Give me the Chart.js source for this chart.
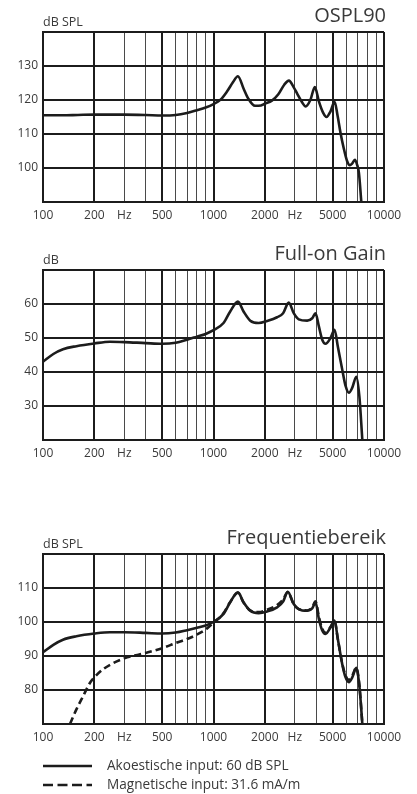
<!DOCTYPE html>
<html>
<head>
<meta charset="utf-8">
<script src="https://cdn.jsdelivr.net/npm/chart.js@4/dist/chart.umd.min.js"></script>
<style>
  html, body { margin: 0; padding: 0; background: #fff; width: 417px; height: 794px; overflow: hidden; }
  .panel { position: absolute; left: 0; width: 417px; }
</style>
</head>
<body>
<div class="panel" style="top:0;height:230px"><canvas id="ospl"></canvas></div>
<div class="panel" style="top:238px;height:230px"><canvas id="gain"></canvas></div>
<div class="panel" style="top:522px;height:272px"><canvas id="range"></canvas></div>
<script>
// Frequency grid (Hz) and the labels printed under it
const freqTicks = [100, 200, 300, 400, 500, 600, 700, 800, 900, 1000, 2000, 3000, 4000, 5000, 6000, 7000, 8000, 9000, 10000];
const freqTickLabels = ['100', '200', 'Hz', '', '500', '', '', '', '', '1000', '2000', 'Hz', '', '5000', '', '', '', '', '10000'];
const majorFreqs = [100, 200, 500, 1000, 2000, 5000, 10000];

// OSPL90 (dB SPL)
const osplFreq = [100, 130, 160, 200, 250, 300, 400, 500, 600, 700, 800, 900, 1000, 1100, 1200, 1300, 1390, 1500, 1600, 1750, 1900, 2000, 2200, 2400, 2600, 2770, 2950, 3100, 3300, 3470, 3700, 3930, 4150, 4400, 4600, 4850, 5130, 5350, 5560, 5800, 6080, 6310, 6500, 6750, 6950, 7130, 7360];
const osplLevel = [115.5, 115.5, 115.6, 115.7, 115.7, 115.7, 115.6, 115.45, 115.6, 116.2, 117.0, 117.8, 118.8, 120.1, 122.5, 125.2, 127.0, 123.4, 120.4, 118.3, 118.4, 118.9, 119.8, 121.7, 124.5, 125.7, 123.8, 121.8, 119.4, 118.1, 120.0, 123.8, 119.6, 116.2, 115.0, 116.6, 119.5, 115.2, 110.3, 105.9, 102.0, 100.8, 101.3, 102.4, 101.0, 98.5, 90.0];

// Full-on gain (dB)
const gainFreq = [100, 115, 131, 157, 200, 247, 300, 400, 500, 600, 700, 800, 900, 1000, 1145, 1253, 1391, 1501, 1643, 1840, 2062, 2360, 2560, 2763, 2955, 3162, 3542, 3793, 3966, 4150, 4343, 4540, 4857, 5128, 5360, 5690, 5953, 6225, 6516, 6880, 7168, 7464];
const gainLevel = [43.0, 45.3, 46.7, 47.6, 48.4, 48.9, 48.8, 48.5, 48.3, 48.6, 49.5, 50.4, 51.2, 52.3, 54.4, 57.8, 60.7, 57.8, 55.1, 54.4, 55.0, 56.1, 57.3, 60.4, 57.3, 55.5, 55.1, 55.8, 57.3, 53.4, 49.5, 48.3, 50.0, 52.4, 47.5, 40.7, 35.9, 33.9, 35.4, 38.6, 32.9, 20.0];

// Frequency response, acoustic input 60 dB SPL (dB SPL)
const acousticFreq = [100, 115, 131, 157, 200, 247, 300, 400, 500, 600, 700, 800, 900, 1000, 1145, 1253, 1391, 1501, 1643, 1840, 2062, 2360, 2560, 2725, 2955, 3162, 3542, 3793, 3966, 4150, 4343, 4540, 4857, 5128, 5360, 5690, 5953, 6225, 6516, 6880, 7168, 7464];
const acousticLevel = [91.1, 93.3, 94.8, 95.8, 96.6, 97.0, 97.0, 96.8, 96.6, 96.9, 97.6, 98.3, 99.0, 100.0, 102.4, 105.8, 108.7, 105.8, 103.3, 102.6, 103.1, 104.3, 106.0, 108.9, 105.3, 103.8, 103.3, 104.0, 105.8, 100.9, 97.5, 96.5, 98.4, 100.4, 95.0, 87.6, 83.7, 82.3, 83.7, 86.5, 81.3, 70.0];

// Frequency response, magnetic input 31.6 mA/m (dB SPL)
const magneticFreq = [144, 157, 172, 188, 200, 225, 258, 300, 400, 500, 600, 700, 800, 900, 1000, 1145, 1253, 1391, 1501, 1643, 1840, 2062, 2360, 2560, 2725, 2955, 3162, 3542, 3793, 3966, 4150, 4343, 4540, 4857, 5128, 5360, 5690, 5953, 6225, 6516, 6880, 7168, 7464];
const magneticLevel = [70.0, 74.3, 78.2, 82.0, 83.7, 86.1, 87.9, 89.3, 90.9, 92.3, 93.8, 95.0, 96.3, 97.8, 99.8, 102.6, 105.9, 108.6, 105.7, 103.4, 102.9, 103.6, 105.0, 106.6, 108.8, 105.2, 103.8, 103.4, 104.3, 106.1, 101.5, 98.0, 96.8, 98.6, 100.3, 95.0, 87.8, 84.2, 83.0, 84.2, 86.6, 81.5, 70.0];

const FONT = '"Open Sans", "Noto Sans", sans-serif';
const INK = '#1c1c1c';
const TEXT = '#3a3a3a';

function toPoints(xs, ys) {
  return xs.map((x, i) => ({ x: x, y: ys[i] }));
}

// Panel heading: title at the top right, unit label above the y axis
const headingPlugin = {
  id: 'heading',
  afterDraw(chart, args, opts) {
    const { ctx, chartArea } = chart;
    ctx.save();
    ctx.fillStyle = TEXT;
    ctx.textBaseline = 'alphabetic';
    ctx.font = '400 20px ' + FONT;
    ctx.textAlign = 'right';
    ctx.fillText(opts.title, chartArea.right + 2, chartArea.top - 10);
    ctx.font = '400 12.5px ' + FONT;
    ctx.textAlign = 'left';
    ctx.fillText(opts.unit, chartArea.left, chartArea.top - 6);
    ctx.restore();
  }
};

// Line-sample legend under the plot
const lineLegendPlugin = {
  id: 'lineLegend',
  afterDraw(chart, args, opts) {
    if (!opts.show) return;
    const { ctx, chartArea } = chart;
    ctx.save();
    chart.data.datasets.forEach((ds, i) => {
      const y = chartArea.bottom + 42 + i * 19;
      ctx.strokeStyle = ds.borderColor;
      ctx.lineWidth = 2.6;
      ctx.setLineDash(ds.borderDash && ds.borderDash.length ? [10, 4.5] : []);
      ctx.beginPath();
      ctx.moveTo(43, y);
      ctx.lineTo(92, y);
      ctx.stroke();
      ctx.setLineDash([]);
      ctx.fillStyle = TEXT;
      ctx.font = '400 13.6px ' + FONT;
      ctx.textAlign = 'left';
      ctx.textBaseline = 'middle';
      ctx.fillText(ds.label, 107, y);
    });
    ctx.restore();
  }
};

function makeChart(id, cfg) {
  const yTicks = [];
  for (let v = cfg.yMin; v <= cfg.yMax; v += 10) yTicks.push(v);
  return new Chart(document.getElementById(id), {
    type: 'line',
    data: {
      datasets: cfg.series.map(s => ({
        label: s.label,
        data: toPoints(s.x, s.y),
        borderColor: INK,
        borderWidth: 2.6,
        borderDash: s.dash || [],
        pointRadius: 0,
        fill: false,
        cubicInterpolationMode: 'monotone'
      }))
    },
    options: {
      responsive: true,
      maintainAspectRatio: false,
      animation: false,
      layout: { padding: { top: 32, right: 33, left: 0, bottom: cfg.bottom || 0 } },
      plugins: {
        legend: { display: false },
        tooltip: { enabled: false },
        heading: { title: cfg.title, unit: cfg.unit },
        lineLegend: { show: !!cfg.legend }
      },
      scales: {
        x: {
          type: 'logarithmic',
          min: 100,
          max: 10000,
          afterBuildTicks: s => { s.ticks = freqTicks.map(v => ({ value: v })); },
          afterFit: s => { s.height = 28; },
          ticks: {
            autoSkip: false,
            maxRotation: 0,
            padding: 6,
            color: TEXT,
            font: { family: FONT, size: 12 },
            callback: (v, i) => freqTickLabels[i]
          },
          grid: {
            drawTicks: false,
            color: c => (c.tick && majorFreqs.includes(c.tick.value)) ? INK : '#4a4a4a',
            lineWidth: c => (c.tick && majorFreqs.includes(c.tick.value)) ? 2 : 1
          },
          border: { display: true, color: INK, width: 2 }
        },
        y: {
          min: cfg.yMin,
          max: cfg.yMax,
          afterBuildTicks: s => { s.ticks = yTicks.map(v => ({ value: v })); },
          afterFit: s => { s.width = 43; },
          ticks: {
            padding: 5,
            color: TEXT,
            font: { family: FONT, size: 12 },
            callback: v => (v === cfg.yMin || v === cfg.yMax) ? '' : String(v)
          },
          grid: { drawTicks: false, color: INK, lineWidth: 2 },
          border: { display: true, color: INK, width: 2 }
        }
      }
    },
    plugins: [headingPlugin, lineLegendPlugin]
  });
}

makeChart('ospl', {
  title: 'OSPL90', unit: 'dB SPL', yMin: 90, yMax: 140,
  series: [{ label: 'OSPL90', x: osplFreq, y: osplLevel }]
});

makeChart('gain', {
  title: 'Full-on Gain', unit: 'dB', yMin: 20, yMax: 70,
  series: [{ label: 'Full-on Gain', x: gainFreq, y: gainLevel }]
});

makeChart('range', {
  title: 'Frequentiebereik', unit: 'dB SPL', yMin: 70, yMax: 120, bottom: 42, legend: true,
  series: [
    { label: 'Akoestische input: 60 dB SPL', x: acousticFreq, y: acousticLevel },
    { label: 'Magnetische input: 31.6 mA/m', x: magneticFreq, y: magneticLevel, dash: [7, 4] }
  ]
});
</script>
</body>
</html>
